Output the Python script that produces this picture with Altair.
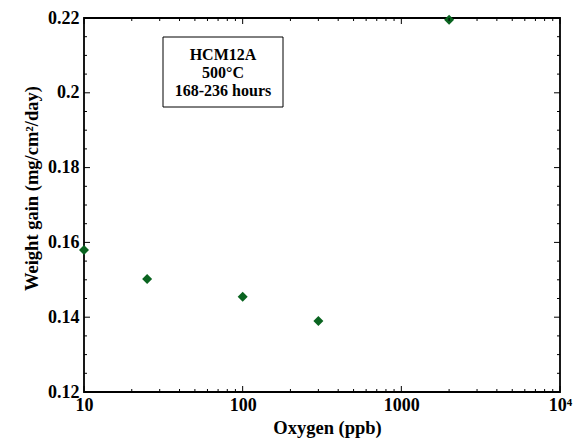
import altair as alt
import pandas as pd

# ---- data ----
oxygen_ppb = [10, 25, 100, 300, 2000]
weight_gain = [0.158, 0.1502, 0.1455, 0.139, 0.2195]

x_major = [10, 100, 1000, 10000]
x_minor = [k * 10 ** d for d in (1, 2, 3) for k in range(2, 10)]
y_major = [0.12, 0.14, 0.16, 0.18, 0.20, 0.22]
y_minor = [0.125, 0.13, 0.135, 0.145, 0.15, 0.155, 0.165, 0.17, 0.175,
           0.185, 0.19, 0.195, 0.205, 0.21, 0.215]

box_lines = ["HCM12A", "500°C", "168-236 hours"]
x_title = "Oxygen (ppb)"
y_title = "Weight gain (mg/cm²/day)"

W, H = 476, 374
FONT = "Liberation Serif"
GREEN = "#0a6420"

xscale = alt.Scale(type="log", domain=[10, 10000], nice=False)
yscale = alt.Scale(domain=[0.12, 0.22], nice=False, zero=False)

df = pd.DataFrame({"oxygen": oxygen_ppb, "gain": weight_gain})

common_axis = dict(
    ticks=False, grid=False, domain=False, labelFlush=False,
    labelFont=FONT, labelFontWeight="bold", labelFontSize=18, labelColor="black",
    titleFont=FONT, titleFontWeight="bold", titleFontSize=18.5, titleColor="black",
)

points = alt.Chart(df).mark_point(
    shape="diamond", filled=True, size=100, color=GREEN, opacity=1
).encode(
    x=alt.X("oxygen:Q", scale=xscale, axis=alt.Axis(
        title=x_title, values=x_major,
        labelExpr="datum.value == 10000 ? '10⁴' : format(datum.value, 'd')",
        labelPadding=4, titlePadding=4, titleX=243, **common_axis)),
    y=alt.Y("gain:Q", scale=yscale, axis=alt.Axis(
        title=y_title, values=y_major, format="~g",
        labelPadding=5, titlePadding=6, titleY=170, **common_axis)),
)


def ticks(vals, side, length):
    d = pd.DataFrame({"v": vals})
    base = alt.Chart(d).mark_rule(color="black", strokeWidth=1)
    if side == "bottom":
        return base.encode(x=alt.X("v:Q", scale=xscale),
                           y=alt.value(H), y2=alt.value(H - length))
    if side == "top":
        return base.encode(x=alt.X("v:Q", scale=xscale),
                           y=alt.value(0), y2=alt.value(length))
    if side == "left":
        return base.encode(y=alt.Y("v:Q", scale=yscale),
                           x=alt.value(0), x2=alt.value(length))
    return base.encode(y=alt.Y("v:Q", scale=yscale),
                       x=alt.value(W), x2=alt.value(W - length))


tick_layers = []
for side in ("bottom", "top"):
    tick_layers.append(ticks(x_major, side, 6))
    tick_layers.append(ticks(x_minor, side, 3))
for side in ("left", "right"):
    tick_layers.append(ticks(y_major, side, 6))
    tick_layers.append(ticks(y_minor, side, 3))

one = pd.DataFrame({"a": [0]})
box = alt.Chart(one).mark_rect(fill="white", stroke="black", strokeWidth=1).encode(
    x=alt.value(79), x2=alt.value(199), y=alt.value(19), y2=alt.value(89)
)
label = alt.Chart(one).mark_text(
    text=box_lines, font=FONT, fontWeight="bold", fontSize=16, color="black",
    lineHeight=18, align="center", baseline="middle"
).encode(x=alt.value(139), y=alt.value(37))

chart = alt.layer(points, *tick_layers, box, label).properties(
    width=W, height=H,
    background="white",
    autosize=alt.AutoSizeParams(type="none"),
    padding={"left": 76, "top": 10, "right": 20, "bottom": 50},
).configure_view(stroke="black", strokeWidth=1.8)

chart.save("out.html", embed_options={"renderer": "svg", "actions": False})
